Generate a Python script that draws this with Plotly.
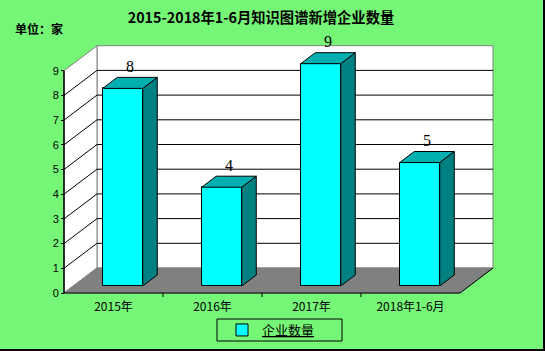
import plotly.graph_objects as go

# ---------------- data ----------------
categories = ["2015年", "2016年", "2017年", "2018年1-6月"]
values = [8, 4, 9, 5]
y_ticks = [0, 1, 2, 3, 4, 5, 6, 7, 8, 9]
series_name = "企业数量"
title_text = "2015-2018年1-6月知识图谱新增企业数量"
unit_text = "单位：家"

# ---------------- layout geometry ----------------
W, H = 545, 351
L, R, T, B = 0, W, 0, H                # plot area covers the whole figure
FX0 = 64                               # pixel of front-left corner (x=-0.5)
FY0 = 293                              # pixel of front floor line (y=0)
PX_CAT = 99.0                          # px per category
PX_VAL = 24.7                          # px per value unit
DX = 33 / PX_CAT                       # depth offset in x units
DY = 25 / PX_VAL                       # depth offset in y units
F0, F1 = 0.28, 0.72                    # bar depth span (fraction)
BW = 40 / PX_CAT                       # bar width

x_rng = [-0.5 - (FX0 - L) / PX_CAT, -0.5 + (R - FX0) / PX_CAT]
y_rng = [-(B - FY0) / PX_VAL, (FY0 - T) / PX_VAL]

def px2paper_x(p):
    return (p - L) / (R - L)

def px2paper_y(p):
    return (B - p) / (B - T)

BG = "#76F676"
CYAN = "#00FFFF"
SIDE = "#008080"
TOP = "#00B0B0"
GRAY = "#808080"

n = len(categories)
x0, x1 = -0.5, n - 0.5
ymax = max(y_ticks)

def poly(pts):
    return "M " + " L ".join(f"{px},{py}" for px, py in pts) + " Z"

shapes = []
# back wall
shapes.append(dict(type="path", layer="below", xref="x", yref="y",
                   path=poly([(x0 + DX, DY), (x1 + DX, DY), (x1 + DX, ymax + DY), (x0 + DX, ymax + DY)]),
                   fillcolor="white", line=dict(color=GRAY, width=1)))
# left wall
shapes.append(dict(type="path", layer="below", xref="x", yref="y",
                   path=poly([(x0, 0), (x0, ymax), (x0 + DX, ymax + DY), (x0 + DX, DY)]),
                   fillcolor="white", line=dict(color=GRAY, width=1)))
# gridlines
for v in y_ticks:
    if v == 0 or v == ymax:
        continue
    shapes.append(dict(type="line", layer="below", xref="x", yref="y",
                       x0=x0 + DX, y0=v + DY, x1=x1 + DX, y1=v + DY,
                       line=dict(color="black", width=1)))
    shapes.append(dict(type="line", layer="below", xref="x", yref="y",
                       x0=x0, y0=v, x1=x0 + DX, y1=v + DY,
                       line=dict(color="black", width=1)))
# floor
shapes.append(dict(type="path", layer="below", xref="x", yref="y",
                   path=poly([(x0, 0), (x1, 0), (x1 + DX, DY), (x0 + DX, DY)]),
                   fillcolor=GRAY, line=dict(color=GRAY, width=1)))
# floor right edge, front axis lines
shapes.append(dict(type="line", layer="above", xref="x", yref="y",
                   x0=x1, y0=0, x1=x1 + DX, y1=DY, line=dict(color="black", width=1)))
shapes.append(dict(type="line", layer="above", xref="x", yref="y",
                   x0=x0, y0=0, x1=x1, y1=0, line=dict(color="black", width=1)))
shapes.append(dict(type="line", layer="above", xref="x", yref="y",
                   x0=x0, y0=0, x1=x0, y1=ymax, line=dict(color="black", width=1.5)))
# category boundary ticks
for i in range(1, n):
    xb = i - 0.5
    shapes.append(dict(type="line", layer="above", xref="x", yref="y",
                       x0=xb, y0=0, x1=xb, y1=-4 / PX_VAL, line=dict(color="black", width=1)))

# bar 3D faces
bar_x = [i + F0 * DX for i in range(n)]
base = F0 * DY
ddx = (F1 - F0) * DX
ddy = (F1 - F0) * DY
annotations = []
for i, v in enumerate(values):
    xl = bar_x[i] - BW / 2
    xr = bar_x[i] + BW / 2
    yt = base + v
    shapes.append(dict(type="path", layer="above", xref="x", yref="y",
                       path=poly([(xr, base), (xr, yt), (xr + ddx, yt + ddy), (xr + ddx, base + ddy)]),
                       fillcolor=SIDE, line=dict(color="black", width=1)))
    shapes.append(dict(type="path", layer="above", xref="x", yref="y",
                       path=poly([(xl, yt), (xr, yt), (xr + ddx, yt + ddy), (xl + ddx, yt + ddy)]),
                       fillcolor=TOP, line=dict(color="black", width=1)))
    annotations.append(dict(x=bar_x[i] + ddx / 2, y=yt + ddy + 11 / PX_VAL,
                            xref="x", yref="y", text=str(v), showarrow=False,
                            xanchor="center", yanchor="middle",
                            font=dict(family="Liberation Serif", size=16, color="black")))

# legend frame
shapes.append(dict(type="rect", xref="paper", yref="paper",
                   x0=px2paper_x(217), x1=px2paper_x(342), y0=px2paper_y(341), y1=px2paper_y(319),
                   line=dict(color="black", width=1), fillcolor="rgba(0,0,0,0)"))

# outer border (right, bottom)
shapes.append(dict(type="line", xref="paper", yref="paper",
                   x0=px2paper_x(W - 1), y0=px2paper_y(0), x1=px2paper_x(W - 1), y1=px2paper_y(H),
                   line=dict(color="black", width=2)))
shapes.append(dict(type="line", xref="paper", yref="paper",
                   x0=px2paper_x(0), y0=px2paper_y(H - 1), x1=px2paper_x(W), y1=px2paper_y(H - 1),
                   line=dict(color="black", width=2)))

annotations.append(dict(x=px2paper_x(13), y=px2paper_y(28), xref="paper", yref="paper",
                        text=f"<b>{unit_text}</b>", showarrow=False, xanchor="left", yanchor="middle",
                        font=dict(family="Noto Sans CJK SC", size=12, color="black")))

fig = go.Figure()
fig.add_trace(go.Bar(x=bar_x, y=values, base=base, width=BW, name=f"<u>{series_name}</u>",
                     marker=dict(color=CYAN, line=dict(color="black", width=1)),
                     hoverinfo="skip", showlegend=True))

fig.update_layout(
    width=W, height=H,
    margin=dict(l=0, r=0, t=0, b=0, pad=0),
    paper_bgcolor=BG, plot_bgcolor="rgba(0,0,0,0)",
    title=dict(text=f"<b>{title_text}</b>", x=261 / W, y=1 - 18 / H,
               xref="container", yref="container", xanchor="center", yanchor="middle",
               font=dict(family="Noto Sans CJK SC", size=14.3, color="black")),
    xaxis=dict(range=x_rng, tickvals=list(range(n)), ticktext=categories,
               showgrid=False, zeroline=False, showline=False, ticks="",
               ticklabelstandoff=5,
               anchor="free", position=px2paper_y(FY0),
               tickfont=dict(family="Noto Sans CJK SC", size=12, color="black")),
    yaxis=dict(range=y_rng, tickvals=y_ticks, showgrid=False, zeroline=False, showline=False,
               ticks="outside", ticklen=3, tickcolor="black",
               anchor="free", position=px2paper_x(FX0),
               tickfont=dict(family="Liberation Sans", size=11, color="black")),
    shapes=shapes,
    annotations=annotations,
    showlegend=True,
    legend=dict(orientation="h", x=px2paper_x(222), xanchor="left",
                y=px2paper_y(330), yanchor="middle", bgcolor="rgba(0,0,0,0)",
                borderwidth=0,
                font=dict(family="Noto Sans CJK SC", size=13, color="black")),
    bargap=0,
)

fig.write_html("out.html")
